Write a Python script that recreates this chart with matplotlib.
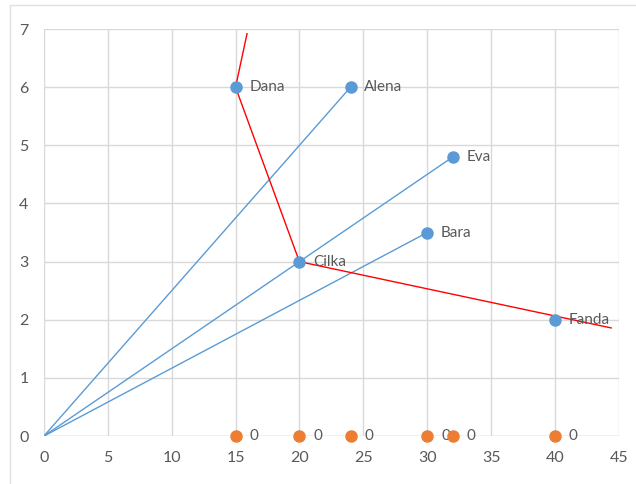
import matplotlib.pyplot as plt
from matplotlib.patches import Rectangle

plt.rcParams['font.family'] = ['Lato', 'DejaVu Sans']

names = ["Dana", "Alena", "Eva", "Bara", "Cilka", "Fanda"]
xs = [15, 24, 32, 30, 20, 40]
ys = [6, 6, 4.8, 3.5, 3, 2]
zero_y = [0, 0, 0, 0, 0, 0]

# blue rays from origin
ray_ends = ["Alena", "Eva", "Bara"]

# red polyline
red_x = [15.9, 15, 20, 44.4]
red_y = [6.92, 6, 3, 1.86]

blue = "#5B9BD5"
orange = "#ED7D31"
grid = "#D9D9D9"
txt = "#595959"

fig = plt.figure(figsize=(6.36, 4.84), dpi=100)
fig.patches.append(Rectangle((0.016, -0.02), 1.0, 1.01, transform=fig.transFigure,
                             fill=False, edgecolor="#E0E0E0", lw=1))
ax = fig.add_axes([0.069, 0.099, 0.904, 0.841])

for n in ray_ends:
    i = names.index(n)
    ax.plot([0, xs[i]], [0, ys[i]], color=blue, lw=1, zorder=2)

ax.plot(red_x, red_y, color="red", lw=1, zorder=3)

ax.plot(xs, ys, "o", color=blue, ms=8, zorder=4)
ax.plot(xs, zero_y, "o", color=orange, ms=8, zorder=4, clip_on=False)

for n, x, y in zip(names, xs, ys):
    ax.annotate(n, (x, y), xytext=(10, 0), textcoords="offset points",
                va="center", ha="left", fontsize=11, color=txt)
for x, y in zip(xs, zero_y):
    ax.annotate("0", (x, y), xytext=(10, 0), textcoords="offset points",
                va="center", ha="left", fontsize=11, color=txt)

ax.set_xlim(0, 45)
ax.set_ylim(0, 7)
ax.set_xticks(range(0, 46, 5))
ax.set_yticks(range(0, 8))
ax.grid(True, color=grid, lw=1)
ax.set_axisbelow(True)
for s in ax.spines.values():
    s.set_visible(False)
ax.axhline(0, color=grid, lw=1, zorder=1)
ax.tick_params(length=0, labelsize=11.5, labelcolor=txt, pad=11)

fig.savefig("out.png", dpi=100)
